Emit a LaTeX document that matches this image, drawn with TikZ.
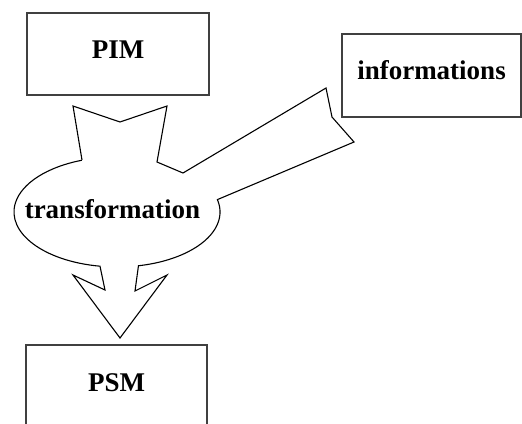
\documentclass[tikz,border=0pt]{standalone}
\usepackage{fontspec}
\setmainfont{Liberation Serif}
\usetikzlibrary{positioning}

\tikzset{
  modelbox/.style={draw=black!75,line width=1.6pt,minimum width=182pt,minimum height=82pt,
    text height=18pt,text depth=10pt,inner sep=0pt,
    font=\fontsize{27}{31}\selectfont\bfseries},
  blockarrow/.style={draw=black,line width=1.1pt,line join=miter}
}

\begin{document}
\begin{tikzpicture}[x=1pt,y=-1pt]
\clip (0,0) rectangle (522,423);
\fill[white] (0,0) rectangle (522,423);
\node[modelbox] (pim) at (118,54) {PIM};
\node[modelbox,minimum width=179pt,minimum height=83pt] (info) at (431.5,75.5) {informations};
\node[modelbox,minimum width=181pt,minimum height=84pt] (psm) at (116.5,387) {PSM};
\node[inner sep=0pt,font=\fontsize{27}{31}\selectfont\bfseries] (trans) at (112.5,209) {transformation};
% outline of the transformation with its three arms
\draw[blockarrow] (82,160) -- (73,106) -- (120,122) -- (167,106) -- (157,162) -- (183,173)
  -- (326,88) -- (332,117) -- (354,142) -- (217.4,199.6)
  arc[start angle=-13,end angle=78,x radius=103,y radius=55]
  -- (135,291) -- (167,275) -- (120,338) -- (73,275) -- (105,290) -- (100,266.2)
  arc[start angle=99.5,end angle=250,x radius=103,y radius=55];
\end{tikzpicture}
\end{document}
